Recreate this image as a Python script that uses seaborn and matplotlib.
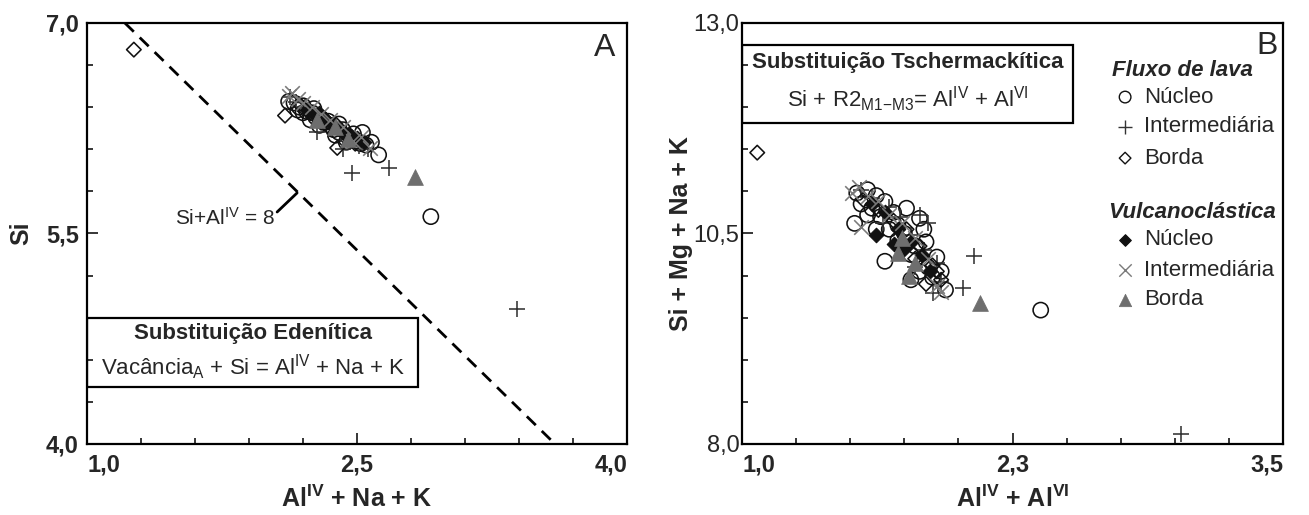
import matplotlib
matplotlib.use('Agg')
import matplotlib.pyplot as plt
import seaborn as sns
import pandas as pd
import numpy as np
from matplotlib.ticker import FixedLocator
from matplotlib.patches import Rectangle

# ---------------- DATA ----------------
# Panel A: x = AlIV + Na + K, y = Si
a_lava_nucleo_x = [2.12, 2.15, 2.17, 2.18, 2.20, 2.20, 2.22, 2.25, 2.26, 2.24, 2.27, 2.30, 2.29, 2.32, 2.34,
                   2.35, 2.37, 2.38, 2.40, 2.40, 2.42, 2.44, 2.45, 2.47, 2.48, 2.50, 2.52, 2.53, 2.55, 2.58,
                   2.62, 2.91]
a_lava_nucleo_y = [6.44, 6.43, 6.38, 6.40, 6.41, 6.36, 6.37, 6.36, 6.39, 6.31, 6.33, 6.32, 6.27, 6.29, 6.30,
                   6.27, 6.24, 6.20, 6.22, 6.28, 6.24, 6.15, 6.19, 6.17, 6.21, 6.16, 6.14, 6.22, 6.13, 6.15,
                   6.06, 5.62]
a_lava_inter_x = [2.13, 2.16, 2.21, 2.26, 2.28, 2.31, 2.36, 2.41, 2.42, 2.46, 2.51, 2.56, 2.47, 2.68, 3.39]
a_lava_inter_y = [6.47, 6.44, 6.40, 6.35, 6.22, 6.30, 6.26, 6.21, 6.10, 6.18, 6.12, 6.10, 5.93, 5.97, 4.96]
a_lava_borda_x = [1.26, 2.10, 2.18, 2.24, 2.30, 2.35, 2.38, 2.39, 2.44, 2.49]
a_lava_borda_y = [6.81, 6.34, 6.42, 6.36, 6.29, 6.25, 6.28, 6.11, 6.20, 6.14]
a_vulc_nucleo_x = [2.22, 2.27, 2.29, 2.31, 2.33, 2.36, 2.40, 2.43, 2.46, 2.50, 2.54]
a_vulc_nucleo_y = [6.38, 6.34, 6.36, 6.33, 6.31, 6.28, 6.25, 6.22, 6.20, 6.18, 6.15]
a_vulc_inter_x = [2.12, 2.14, 2.17, 2.20, 2.25, 2.30, 2.35, 2.42, 2.48, 2.52, 2.57]
a_vulc_inter_y = [6.48, 6.50, 6.46, 6.43, 6.40, 6.35, 6.31, 6.26, 6.16, 6.19, 6.11]
a_vulc_borda_x = [2.28, 2.38, 2.45, 2.82]
a_vulc_borda_y = [6.31, 6.26, 6.17, 5.90]

# Reference line Si + AlIV = 8 (end points) and its label leader
a_line_x = [1.21, 3.60]
a_line_y = [7.00, 4.00]
a_leader_x = [2.056, 2.167]
a_leader_y = [5.653, 5.789]

# Panel B: x = AlIV + AlVI, y = Si + Mg + Na + K
b_lava_nucleo_x = [1.53, 1.58, 1.62, 1.55, 1.60, 1.66, 1.70, 1.64, 1.58, 1.72, 1.68, 1.75, 1.82, 1.85, 1.80,
                   1.78, 1.90, 1.86, 1.82, 1.88, 1.94, 1.78, 1.66, 1.72, 1.52, 1.92, 1.84, 1.76, 1.62, 2.38]
b_lava_nucleo_y = [10.98, 11.02, 10.95, 10.85, 10.80, 10.88, 10.75, 10.70, 10.72, 10.60, 10.55, 10.50, 10.68,
                   10.40, 10.35, 10.25, 10.22, 10.10, 10.05, 9.98, 9.83, 9.95, 10.17, 10.42, 10.62, 10.05,
                   10.55, 10.80, 10.55, 9.59]
b_lava_inter_x = [1.55, 1.60, 1.68, 1.73, 1.82, 1.86, 1.78, 1.84, 1.90, 1.80, 1.88, 1.92, 1.65, 2.07, 2.02, 3.03]
b_lava_inter_y = [11.02, 10.92, 10.82, 10.70, 10.72, 10.62, 10.48, 10.30, 10.15, 10.10, 9.79, 9.92, 10.62,
                  10.23, 9.85, 8.12]
b_lava_borda_x = [1.07, 1.56, 1.63, 1.70, 1.76, 1.82, 1.88, 1.92, 1.80, 1.90, 1.85]
b_lava_borda_y = [11.46, 10.90, 10.78, 10.65, 10.55, 10.35, 10.12, 9.95, 10.20, 10.05, 9.90]
b_vulc_nucleo_x = [1.62, 1.60, 1.66, 1.72, 1.78, 1.83, 1.87, 1.70, 1.75]
b_vulc_nucleo_y = [10.48, 10.85, 10.75, 10.55, 10.40, 10.25, 10.05, 10.38, 10.32]
b_vulc_inter_x = [1.51, 1.55, 1.54, 1.58, 1.63, 1.68, 1.74, 1.80, 1.86, 1.90, 1.92]
b_vulc_inter_y = [10.98, 10.58, 11.05, 10.95, 10.88, 10.72, 10.62, 10.45, 10.20, 9.88, 9.80]
b_vulc_borda_x = [1.72, 1.77, 1.80, 1.74, 2.10]
b_vulc_borda_y = [10.27, 10.00, 10.15, 10.45, 9.67]

group_names = ['lava_nucleo', 'lava_inter', 'lava_borda', 'vulc_nucleo', 'vulc_inter', 'vulc_borda']
legend_labels = ['Núcleo', 'Intermediária', 'Borda', 'Núcleo', 'Intermediária', 'Borda']
legend_headers = ['Fluxo de lava', 'Vulcanoclástica']

a_x_ticks = [1.0, 2.5, 4.0]
a_x_ticklabels = ['1,0', '2,5', '4,0']
a_y_ticks = [4.0, 5.5, 7.0]
a_y_ticklabels = ['4,0', '5,5', '7,0']
b_x_ticks = [1.0, 2.25, 3.5]
b_x_ticklabels = ['1,0', '2,3', '3,5']
b_y_ticks = [8.0, 10.5, 13.0]
b_y_ticklabels = ['8,0', '10,5', '13,0']


def frame(xs, ys):
    rows = []
    for g, (x, y) in zip(group_names, zip(xs, ys)):
        for xi, yi in zip(x, y):
            rows.append({'x': xi, 'y': yi, 'grupo': g})
    return pd.DataFrame(rows)


df_a = frame([a_lava_nucleo_x, a_lava_inter_x, a_lava_borda_x, a_vulc_nucleo_x, a_vulc_inter_x, a_vulc_borda_x],
             [a_lava_nucleo_y, a_lava_inter_y, a_lava_borda_y, a_vulc_nucleo_y, a_vulc_inter_y, a_vulc_borda_y])
df_b = frame([b_lava_nucleo_x, b_lava_inter_x, b_lava_borda_x, b_vulc_nucleo_x, b_vulc_inter_x, b_vulc_borda_x],
             [b_lava_nucleo_y, b_lava_inter_y, b_lava_borda_y, b_vulc_nucleo_y, b_vulc_inter_y, b_vulc_borda_y])

# ---------------- STYLE ----------------
sns.set_theme(style='white')
plt.rcParams['font.family'] = ['Liberation Sans', 'DejaVu Sans']
plt.rcParams['mathtext.fontset'] = 'custom'
plt.rcParams['mathtext.rm'] = 'Liberation Sans'
plt.rcParams['mathtext.bf'] = 'Liberation Sans:bold'
plt.rcParams['mathtext.it'] = 'Liberation Sans:italic'

styles = {
    'lava_nucleo': dict(marker='o', s=120, facecolors='none', edgecolors='#111111', linewidths=1.15),
    'lava_inter': dict(marker='+', s=130, color='#333333', linewidths=1.15),
    'lava_borda': dict(marker='D', s=55, facecolors='none', edgecolors='#111111', linewidths=1.15),
    'vulc_nucleo': dict(marker='D', s=55, color='#111111', edgecolors='#111111', linewidths=0.8),
    'vulc_inter': dict(marker='x', s=110, color='#7a7a7a', linewidths=1.15),
    'vulc_borda': dict(marker='^', s=130, color='#6e6e6e', edgecolors='#6e6e6e', linewidths=0.5),
}
leg_styles = {
    'lava_nucleo': dict(marker='o', s=70, facecolors='none', edgecolors='#111111', linewidths=1.0),
    'lava_inter': dict(marker='+', s=90, color='#333333', linewidths=1.0),
    'lava_borda': dict(marker='D', s=35, facecolors='none', edgecolors='#111111', linewidths=1.0),
    'vulc_nucleo': dict(marker='D', s=35, color='#111111', edgecolors='#111111', linewidths=0.8),
    'vulc_inter': dict(marker='x', s=80, color='#7a7a7a', linewidths=1.0),
    'vulc_borda': dict(marker='^', s=80, color='#6e6e6e', edgecolors='#6e6e6e', linewidths=0.5),
}

fig = plt.figure(figsize=(13.09, 5.15), dpi=100)
axA = fig.add_axes([0.0665, 0.1379, 0.4125, 0.8175])
axB = fig.add_axes([0.5669, 0.1379, 0.4133, 0.8175])

for ax, df in ((axA, df_a), (axB, df_b)):
    for g in group_names:
        sub = df[df['grupo'] == g]
        sns.scatterplot(data=sub, x='x', y='y', ax=ax, legend=False, zorder=3, **styles[g])

# Panel A extras
axA.plot(a_line_x, a_line_y, color='black', lw=2.0, dashes=(4.5, 3), zorder=2)
axA.plot(a_leader_x, a_leader_y, color='black', lw=2.0, zorder=2)
axA.text(a_leader_x[0] - 0.01, a_leader_y[0] - 0.04, r'Si+Al$^{\mathrm{IV}}$ = 8', ha='right', va='center',
         fontsize=15)

for ax, xlim, ylim, xt, xtl, yt, ytl, xstep, ystep in (
        (axA, (1.0, 4.0), (4.0, 7.0), a_x_ticks, a_x_ticklabels, a_y_ticks, a_y_ticklabels, 0.3, 0.3),
        (axB, (1.0, 3.5), (8.0, 13.0), b_x_ticks, b_x_ticklabels, b_y_ticks, b_y_ticklabels, 0.25, 0.5)):
    ax.set_xlim(*xlim)
    ax.set_ylim(*ylim)
    ax.set_xticks(xt, labels=xtl)
    ax.set_yticks(yt, labels=ytl)
    ax.xaxis.set_minor_locator(FixedLocator(np.arange(xlim[0], xlim[1] + 1e-6, xstep)))
    ax.yaxis.set_minor_locator(FixedLocator(np.arange(ylim[0], ylim[1] + 1e-6, ystep)))
    ax.tick_params(which='both', direction='in', bottom=True, left=True, top=False, right=False,
                   color='black', width=1.1)
    ax.tick_params(which='major', length=8)
    ax.tick_params(which='minor', length=4)
    ax.tick_params(axis='x', which='major', labelsize=17, pad=7)
    for sp in ax.spines.values():
        sp.set_color('black')
        sp.set_linewidth(1.6)
    for lab in ax.get_xticklabels():
        lab.set_fontweight('bold')
    xl = ax.get_xticklabels()
    xl[0].set_ha('left')
    xl[-1].set_ha('right')

axA.tick_params(axis='y', which='major', labelsize=17, pad=6)
for lab in axA.get_yticklabels():
    lab.set_fontweight('bold')
axB.tick_params(axis='y', which='major', labelsize=17, pad=2)

# Axis labels
axA.set_xlabel(r'Al$^{\mathbf{IV}}$ + Na + K', fontsize=18, fontweight='bold')
axA.set_ylabel('Si', fontsize=18, fontweight='bold')
axB.set_xlabel(r'Al$^{\mathbf{IV}}$ + Al$^{\mathbf{VI}}$', fontsize=18, fontweight='bold')
axB.set_ylabel('Si + Mg + Na + K', fontsize=18, fontweight='bold')
axA.xaxis.set_label_coords(0.5, -0.1)
axB.xaxis.set_label_coords(0.5, -0.1)
axA.yaxis.set_label_coords(-0.1, 0.5)
axB.yaxis.set_label_coords(-0.09, 0.5)

# Panel letters
axA.text(0.958, 0.94, 'A', transform=axA.transAxes, fontsize=23, ha='center', va='center')
axB.text(0.97, 0.945, 'B', transform=axB.transAxes, fontsize=23, ha='center', va='center')

# Boxes
axA.add_patch(Rectangle((0.0, 0.135), 0.613, 0.164, transform=axA.transAxes, fill=False,
                        edgecolor='black', lw=1.6, zorder=4))
axA.text(0.307, 0.262, 'Substituição Edenítica', transform=axA.transAxes, ha='center', va='center',
         fontsize=16, fontweight='bold')
axA.text(0.307, 0.183, r'Vacância$_{\mathrm{A}}$ + Si = Al$^{\mathrm{IV}}$ + Na + K', transform=axA.transAxes,
         ha='center', va='center', fontsize=16)

axB.add_patch(Rectangle((0.0, 0.762), 0.612, 0.186, transform=axB.transAxes, fill=False,
                        edgecolor='black', lw=1.6, zorder=4))
axB.text(0.306, 0.907, 'Substituição Tschermackítica', transform=axB.transAxes, ha='center', va='center',
         fontsize=16, fontweight='bold')
axB.text(0.306, 0.818, r'Si + R2$_{\mathrm{M1{-}M3}}$= Al$^{\mathrm{IV}}$ + Al$^{\mathrm{VI}}$',
         transform=axB.transAxes, ha='center', va='center', fontsize=16)

# Manual legend in panel B
header_pos = [(0.684, 0.888), (0.676, 0.551)]
item_y = [0.824, 0.753, 0.679, 0.485, 0.413, 0.342]
for (hx, hy), h in zip(header_pos, legend_headers):
    axB.text(hx, hy, h, transform=axB.transAxes, fontsize=16, fontweight='bold', fontstyle='italic',
             ha='left', va='center')
for g, lab, yy in zip(group_names, legend_labels, item_y):
    axB.scatter([0.708], [yy], transform=axB.transAxes, clip_on=False, zorder=5, **leg_styles[g])
    axB.text(0.743, yy, lab, transform=axB.transAxes, fontsize=16, ha='left', va='center')

fig.savefig('out.png', dpi=100)
